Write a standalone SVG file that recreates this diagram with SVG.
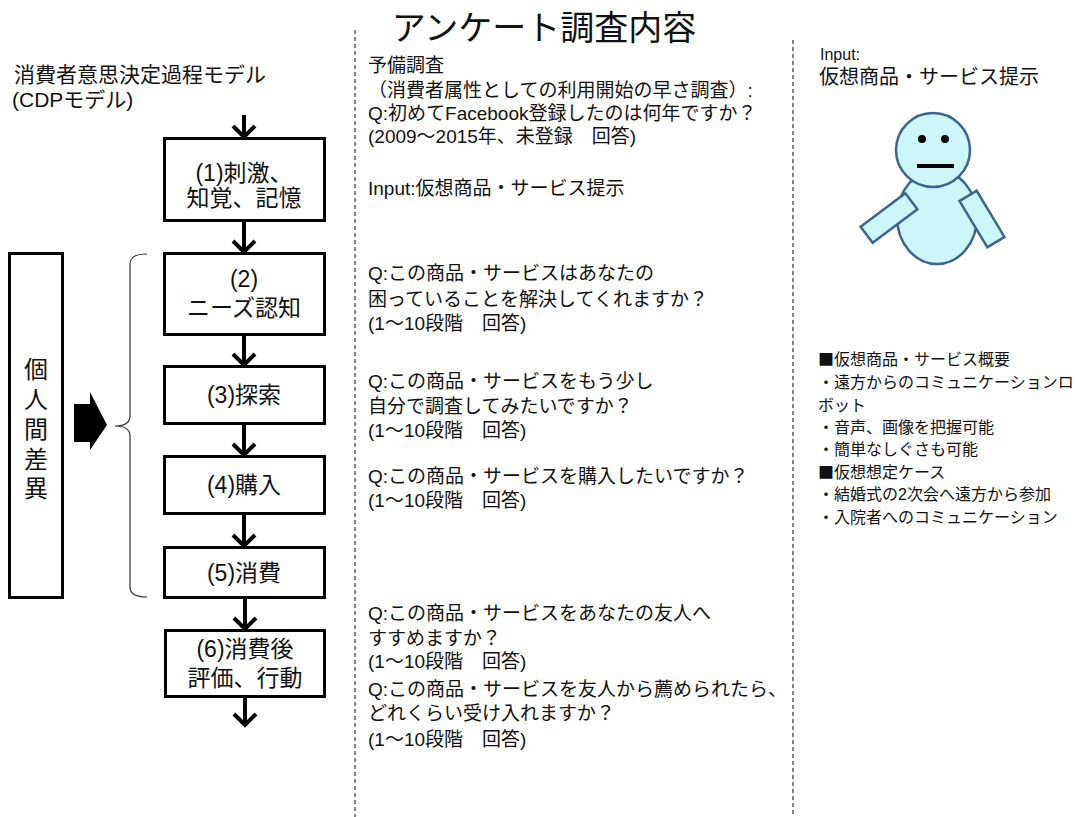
<svg xmlns="http://www.w3.org/2000/svg" width="1078" height="817" viewBox="0 0 1078 817">
  <style>
    .jp { font-family: "Liberation Sans", "Noto Sans CJK JP", sans-serif; fill: #111; }
    .cjk { font-family: "Noto Sans CJK JP", sans-serif; }
    .title { font-size: 34px; }
    .head { font-size: 21px; }
    .box { fill: #fff; stroke: #000; stroke-width: 3; }
    .boxt { font-size: 23px; text-anchor: middle; }
    .q { font-size: 19px; }
    .list { font-size: 16px; }
    .sep { stroke: #333; stroke-width: 1.2; stroke-dasharray: 4 3; fill: none; }
    .flow { stroke: #000; stroke-width: 4; fill: none; marker-end: url(#chev); }
    .robot { fill: #cdf6f9; stroke: #3a6590; stroke-width: 2.5; }
  </style>
  <defs>
    <marker id="chev" viewBox="0 0 16 26" refX="13" refY="13" markerWidth="16" markerHeight="26" orient="auto" markerUnits="userSpaceOnUse">
      <path d="M2,2 L13,13 L2,24" fill="none" stroke="#000" stroke-width="4"/>
    </marker>
  </defs>
  <rect width="1078" height="817" fill="#fff"/>

  <!-- column separators -->
  <line class="sep" x1="355" y1="30" x2="355" y2="817"/>
  <line class="sep" x1="793" y1="40" x2="793" y2="817"/>

  <!-- heading -->
  <text class="jp title" x="544" y="40" text-anchor="middle">アンケート調査内容</text>

  <!-- model caption -->
  <g id="model-caption">
    <text class="jp head" x="14" y="82">消費者意思決定過程モデル</text>
    <text class="jp head" x="12" y="107" font-size="20">(CDPモデル)</text>
  </g>

  <!-- process steps -->
  <g id="step1">
    <rect class="box" x="164.5" y="138.5" width="160" height="82"/>
    <text class="jp boxt" x="244" y="181">(1)刺激、</text>
    <text class="jp boxt" x="244" y="206">知覚、記憶</text>
  </g>
  <g id="step2">
    <rect class="box" x="164.5" y="253.5" width="160" height="81"/>
    <text class="jp boxt" x="244" y="287">(2)</text>
    <text class="jp boxt" x="244" y="316">ニーズ認知</text>
  </g>
  <g id="step3">
    <rect class="box" x="164.5" y="366.5" width="160" height="57"/>
    <text class="jp boxt" x="244" y="403">(3)探索</text>
  </g>
  <g id="step4">
    <rect class="box" x="164.5" y="456.5" width="160" height="57"/>
    <text class="jp boxt" x="244" y="493">(4)購入</text>
  </g>
  <g id="step5">
    <rect class="box" x="164.5" y="547.5" width="160" height="50"/>
    <text class="jp boxt" x="244" y="581">(5)消費</text>
  </g>
  <g id="step6">
    <rect class="box" x="165.5" y="630.5" width="159" height="66"/>
    <text class="jp boxt" x="245" y="657">(6)消費後</text>
    <text class="jp boxt" x="245" y="686">評価、行動</text>
  </g>

  <!-- individual differences -->
  <g id="individual-diff">
    <rect class="box" x="9.5" y="253.5" width="53" height="344"/>
    <g class="jp" font-size="24" text-anchor="middle">
      <text x="36" y="378">個</text>
      <text x="36" y="408">人</text>
      <text x="36" y="438">間</text>
      <text x="36" y="468">差</text>
      <text x="36" y="497">異</text>
    </g>
  </g>

  <!-- connectors -->
  <g id="connectors">
    <path class="flow" d="M244,115 V137"/>
    <path class="flow" d="M244,222 V252"/>
    <path class="flow" d="M244,336 V365"/>
    <path class="flow" d="M244,425 V455"/>
    <path class="flow" d="M244,515 V546"/>
    <path class="flow" d="M245,599 V629"/>
    <path class="flow" d="M245,698 V725"/>
    <polygon points="74,404 90,404 90,392 107,425 90,450 90,442 74,442" fill="#000"/>
    <path d="M147,254 Q130,254 130,264 L130,416 Q130,426 115,426 Q130,426 130,436 L130,587 Q130,597 147,597" fill="none" stroke="#333" stroke-width="1.2"/>
  </g>

  <!-- survey questions -->
  <g id="survey" class="jp q">
    <text x="368" y="72">予備調査</text>
    <text x="368" y="97">（消費者属性としての利用開始の早さ調査）:</text>
    <text x="368" y="120">Q:初めてFacebook登録したのは何年ですか？</text>
    <text x="368" y="143">(2009～2015年、未登録　回答)</text>
    <text x="368" y="195">Input:仮想商品・サービス提示</text>

    <text x="368" y="280">Q:この商品・サービスはあなたの</text>
    <text x="368" y="306">困っていることを解決してくれますか？</text>
    <text x="368" y="330">(1～10段階　回答)</text>

    <text x="368" y="388">Q:この商品・サービスをもう少し</text>
    <text x="368" y="413">自分で調査してみたいですか？</text>
    <text x="368" y="437">(1～10段階　回答)</text>

    <text x="368" y="483">Q:この商品・サービスを購入したいですか？</text>
    <text x="368" y="507">(1～10段階　回答)</text>

    <text x="368" y="620">Q:この商品・サービスをあなたの友人へ</text>
    <text x="368" y="645">すすめますか？</text>
    <text x="368" y="668">(1～10段階　回答)</text>
    <text x="368" y="696">Q:この商品・サービスを友人から薦められたら、</text>
    <text x="368" y="720">どれくらい受け入れますか？</text>
    <text x="368" y="746">(1～10段階　回答)</text>
  </g>

  <!-- product input -->
  <g id="input-label">
    <text class="jp" x="820" y="60" font-size="16">Input:</text>
    <text class="jp" x="819" y="84" font-size="20">仮想商品・サービス提示</text>
  </g>

  <!-- robot figure -->
  <g id="robot">
    <ellipse class="robot" cx="937" cy="217" rx="40" ry="47"/>
    <rect class="robot" x="-28" y="-10" width="56" height="20" transform="translate(889,218) rotate(-37)"/>
    <rect class="robot" x="-27" y="-10" width="54" height="20" transform="translate(982,219) rotate(59)"/>
    <circle class="robot" cx="933" cy="150" r="37"/>
    <circle cx="922" cy="139" r="4" fill="#000"/>
    <circle cx="945" cy="139" r="4" fill="#000"/>
    <line x1="917" y1="166" x2="954" y2="166" stroke="#000" stroke-width="4"/>
  </g>

  <!-- product overview -->
  <g id="overview" class="jp list">
    <text x="818" y="365"><tspan class="cjk">■</tspan>仮想商品・サービス概要</text>
    <text x="818" y="388">・遠方からのコミュニケーションロ</text>
    <text x="818" y="411">ボット</text>
    <text x="818" y="433">・音声、画像を把握可能</text>
    <text x="818" y="455">・簡単なしぐさも可能</text>
    <text x="818" y="478"><tspan class="cjk">■</tspan>仮想想定ケース</text>
    <text x="818" y="500">・結婚式の2次会へ遠方から参加</text>
    <text x="818" y="523">・入院者へのコミュニケーション</text>
  </g>
</svg>
